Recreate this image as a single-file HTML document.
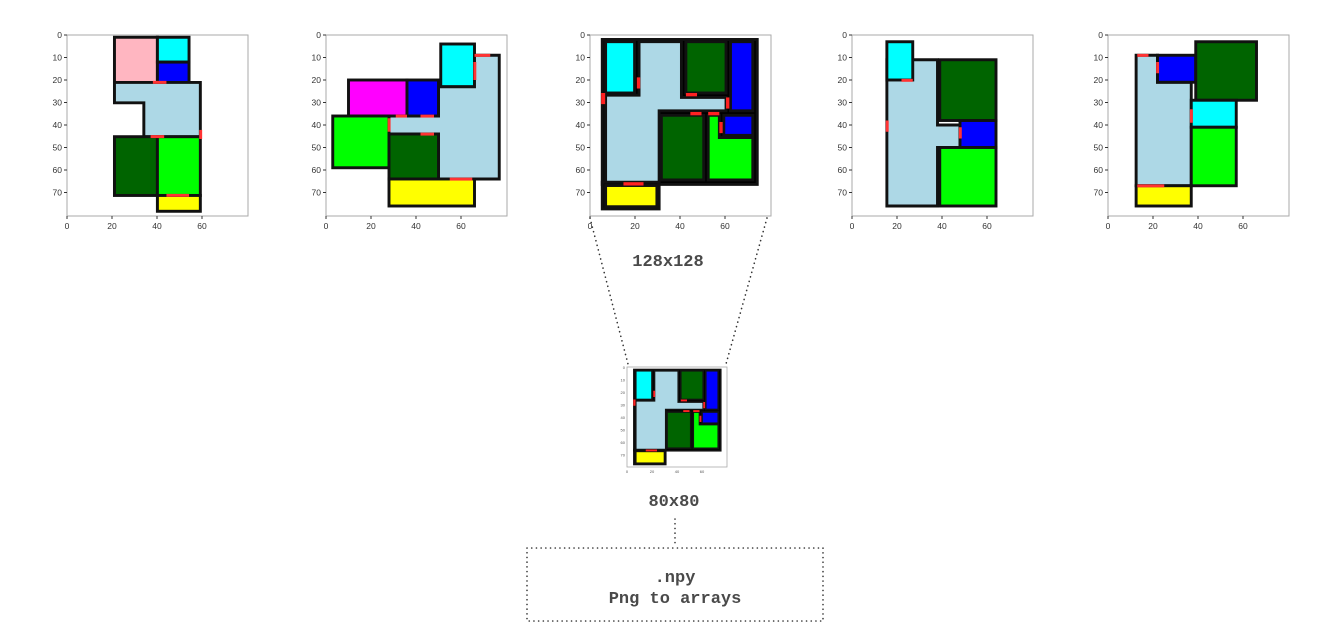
<!DOCTYPE html>
<html><head><meta charset="utf-8"><style>
html,body{margin:0;padding:0;background:#fff;width:1327px;height:643px;overflow:hidden}
svg{display:block}
.t{font-family:"Liberation Sans",sans-serif;font-size:8.5px;fill:#333}
.s{font-family:"Liberation Sans",sans-serif;font-size:4px;fill:#555}
.lab{font-family:"Liberation Mono","DejaVu Sans Mono",monospace;font-weight:bold;font-size:17px;fill:#4a4a4a}
.r rect,.r polygon{stroke:#111;stroke-width:1.3;stroke-linejoin:miter}
</style></head><body>
<svg width="1327" height="643" viewBox="0 0 1327 643" xmlns="http://www.w3.org/2000/svg">
<defs>
<g id="ax">
<rect x="0" y="0" width="181" height="181" fill="#fff" stroke="#aaa" stroke-width="1"/>
<g stroke="#333" stroke-width="1">
<line x1="0" y1="0" x2="-3" y2="0"/><line x1="0" y1="22.5" x2="-3" y2="22.5"/><line x1="0" y1="45" x2="-3" y2="45"/><line x1="0" y1="67.5" x2="-3" y2="67.5"/><line x1="0" y1="90" x2="-3" y2="90"/><line x1="0" y1="112.5" x2="-3" y2="112.5"/><line x1="0" y1="135" x2="-3" y2="135"/><line x1="0" y1="157.5" x2="-3" y2="157.5"/>
<line x1="0" y1="181" x2="0" y2="184"/><line x1="45" y1="181" x2="45" y2="184"/><line x1="90" y1="181" x2="90" y2="184"/><line x1="135" y1="181" x2="135" y2="184"/>
</g>
<g class="t" text-anchor="end">
<text x="-5" y="3">0</text><text x="-5" y="25.5">10</text><text x="-5" y="48">20</text><text x="-5" y="70.5">30</text><text x="-5" y="93">40</text><text x="-5" y="115.5">50</text><text x="-5" y="138">60</text><text x="-5" y="160.5">70</text>
</g>
<g class="t" text-anchor="middle">
<text x="0" y="194">0</text><text x="45" y="194">20</text><text x="90" y="194">40</text><text x="135" y="194">60</text>
</g>
</g>
<g id="p3" class="r">
<rect x="5.5" y="2" width="69.5" height="65" fill="#000"/>
<rect x="5.5" y="66" width="25.5" height="12" fill="#000"/>
<rect x="7" y="3" width="13" height="23" fill="#00ffff"/>
<polygon points="22,3 41,3 41,28 61,28 61,34 31,34 31,66 7,66 7,27 22,27" fill="#add8e6"/>
<rect x="43" y="3" width="18" height="23" fill="#006400"/>
<rect x="63" y="3" width="10" height="31" fill="#0000ff"/>
<rect x="60" y="36" width="13" height="9" fill="#0000ff"/>
<rect x="32" y="36" width="19" height="29" fill="#006400"/>
<polygon points="53,36 58,36 58,46 73,46 73,65 53,65" fill="#00ff00"/>
<rect x="7" y="67.5" width="23" height="9.5" fill="#ffff00"/>
<g fill="#f22" stroke="none"><rect x="5" y="26" width="1.8" height="5" style="stroke:none"/><rect x="21" y="19" width="1.5" height="5" style="stroke:none"/><rect x="43" y="26" width="5" height="1.5" style="stroke:none"/><rect x="61" y="28" width="1.5" height="5" style="stroke:none"/><rect x="45" y="34.5" width="5" height="1.5" style="stroke:none"/><rect x="53" y="34.5" width="5" height="1.5" style="stroke:none"/><rect x="58" y="39" width="1.5" height="5" style="stroke:none"/><rect x="15" y="66" width="9" height="1.5" style="stroke:none"/></g>
</g>
</defs>

<g transform="translate(67,35)"><use href="#ax"/>
<g transform="scale(2.26)" class="r">
<rect x="21" y="1" width="19" height="20" fill="#ffb6c1"/>
<rect x="40" y="1" width="14" height="11" fill="#00ffff"/>
<rect x="40" y="12" width="14" height="9" fill="#0000ff"/>
<polygon points="21,21 59,21 59,45 34,45 34,30 21,30" fill="#add8e6"/>
<rect x="21" y="45" width="19" height="26" fill="#006400"/>
<rect x="40" y="45" width="19" height="26" fill="#00ff00"/>
<rect x="40" y="71" width="19" height="7" fill="#ffff00"/>
<g fill="#f33"><rect x="38" y="20.3" width="6" height="1.3" style="stroke:none"/><rect x="37" y="44.3" width="6" height="1.3" style="stroke:none"/><rect x="58.5" y="42" width="1.3" height="4" style="stroke:none"/><rect x="44" y="70.3" width="10" height="1.3" style="stroke:none"/></g>
</g></g>

<g transform="translate(326,35)"><use href="#ax"/>
<g transform="scale(2.25)" class="r">
<rect x="51" y="4" width="15" height="19" fill="#00ffff"/>
<polygon points="66,9 77,9 77,64 50,64 50,44 28,44 28,36 50,36 50,23 66,23" fill="#add8e6"/>
<rect x="10" y="20" width="26" height="16" fill="#ff00ff"/>
<rect x="36" y="20" width="14" height="16" fill="#0000ff"/>
<rect x="3" y="36" width="25" height="23" fill="#00ff00"/>
<rect x="28" y="44" width="22" height="20" fill="#006400"/>
<rect x="28" y="64" width="38" height="12" fill="#ffff00"/>
<g fill="#f33"><rect x="66" y="8.4" width="7" height="1.3" style="stroke:none"/><rect x="65.5" y="12" width="1.3" height="8" style="stroke:none"/><rect x="31" y="35.4" width="5" height="1.3" style="stroke:none"/><rect x="42" y="35.4" width="6" height="1.3" style="stroke:none"/><rect x="27.4" y="37" width="1.3" height="6" style="stroke:none"/><rect x="42" y="43.4" width="6" height="1.3" style="stroke:none"/><rect x="55" y="63.4" width="10" height="1.3" style="stroke:none"/></g>
</g></g>

<g transform="translate(590,35)"><use href="#ax"/>
<g transform="scale(2.23)"><use href="#p3"/></g></g>

<g transform="translate(852,35)"><use href="#ax"/>
<g transform="scale(2.25)" class="r">
<polygon points="15.5,11 38,11 38,40 48,40 48,50 38,50 38,76 15.5,76" fill="#add8e6"/>
<rect x="15.5" y="3" width="11.5" height="17" fill="#00ffff"/>
<rect x="39" y="11" width="25" height="27" fill="#006400"/>
<rect x="48" y="38" width="16" height="12" fill="#0000ff"/>
<rect x="39" y="50" width="25" height="26" fill="#00ff00"/>
<g fill="#f33"><rect x="15" y="38" width="1.3" height="5" style="stroke:none"/><rect x="22" y="19.5" width="5" height="1.3" style="stroke:none"/><rect x="47.5" y="41" width="1.3" height="5" style="stroke:none"/></g>
</g></g>

<g transform="translate(1108,35)"><use href="#ax"/>
<g transform="scale(2.25)" class="r">
<polygon points="12.5,9 22,9 22,21 37,21 37,67 12.5,67" fill="#add8e6"/>
<rect x="22" y="9" width="17" height="12" fill="#0000ff"/>
<rect x="39" y="3" width="27" height="26" fill="#006400"/>
<rect x="37" y="29" width="20" height="12" fill="#00ffff"/>
<rect x="37" y="41" width="20" height="26" fill="#00ff00"/>
<rect x="12.5" y="67" width="24.5" height="9" fill="#ffff00"/>
<g fill="#f33"><rect x="13" y="66.4" width="12" height="1.3" style="stroke:none"/><rect x="36.4" y="33" width="1.3" height="6" style="stroke:none"/><rect x="21.4" y="12" width="1.3" height="5" style="stroke:none"/><rect x="13" y="8.4" width="5" height="1.3" style="stroke:none"/></g>
</g></g>

<g transform="translate(627,367)">
<rect x="0" y="0" width="100" height="100" fill="#fff" stroke="#aaa" stroke-width="0.8"/>
<g class="s" text-anchor="end">
<text x="-2" y="2">0</text><text x="-2" y="14.5">10</text><text x="-2" y="27">20</text><text x="-2" y="39.5">30</text><text x="-2" y="52">40</text><text x="-2" y="64.5">50</text><text x="-2" y="77">60</text><text x="-2" y="89.5">70</text>
</g>
<g class="s" text-anchor="middle">
<text x="0" y="106">0</text><text x="25" y="106">20</text><text x="50" y="106">40</text><text x="75" y="106">60</text>
</g>
<g transform="scale(1.25)"><use href="#p3"/></g>
</g>

<g stroke="#333" stroke-width="1.6" stroke-dasharray="0.1,4.6" stroke-linecap="round" fill="none">
<line x1="590" y1="218" x2="628" y2="364"/>
<line x1="767" y1="218" x2="726" y2="364"/>
<line x1="675" y1="519" x2="675" y2="545"/>
<rect x="527" y="548" width="296" height="73"/>
</g>

<text class="lab" x="668" y="266" text-anchor="middle">128x128</text>
<text class="lab" x="674" y="506" text-anchor="middle">80x80</text>
<text class="lab" x="675" y="582" text-anchor="middle">.npy</text>
<text class="lab" x="675" y="603" text-anchor="middle">Png to arrays</text>
</svg>
</body></html>
